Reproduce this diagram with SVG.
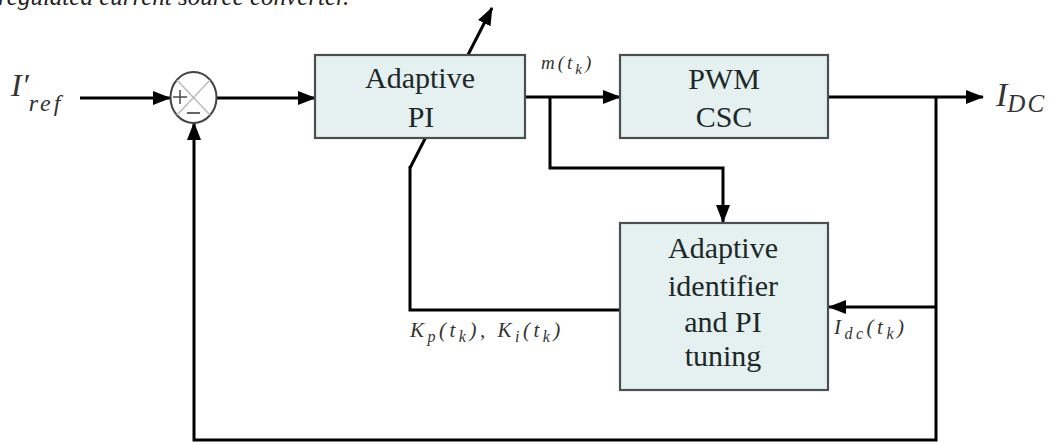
<svg xmlns="http://www.w3.org/2000/svg" width="1057" height="443" viewBox="0 0 1057 443">
  <defs>
    <marker id="arr" markerUnits="userSpaceOnUse" markerWidth="18" markerHeight="14" refX="17" refY="7" orient="auto">
      <path d="M0,0 L18,7 L0,14 Z" fill="#000"/>
    </marker>
  </defs>
  <style>
    .box { fill: #e4f1f0; stroke: #4a4f4f; stroke-width: 2.2; }
    .line { fill: none; stroke: #000; stroke-width: 3; }
    .txt { font-family: "Liberation Serif", "DejaVu Serif", "Times New Roman", serif; font-size: 30px; fill: #1e2828; text-anchor: middle; }
    .math { font-family: "Liberation Serif", "DejaVu Serif", "Times New Roman", serif; font-style: italic; fill: #333; }
    .cap { font-family: "Liberation Serif", "DejaVu Serif", "Times New Roman", serif; font-style: italic; font-size: 25px; fill: #222; }
  </style>
  <rect width="1057" height="443" fill="#fff"/>
  <text class="cap" x="-2" y="5">regulated current source converter.</text>

  <g id="connectors">
    <line class="line" x1="80" y1="98" x2="170" y2="98" marker-end="url(#arr)"/>
    <line class="line" x1="217" y1="98" x2="315" y2="98" marker-end="url(#arr)"/>
    <line class="line" x1="410" y1="168" x2="492" y2="8" marker-end="url(#arr)"/>
    <polyline class="line" points="410,166 410,310 620,310"/>
    <line class="line" x1="525" y1="97" x2="620" y2="97" marker-end="url(#arr)"/>
    <polyline class="line" points="550,97 550,168 723,168 723,222" marker-end="url(#arr)"/>
    <line class="line" x1="828" y1="97" x2="983" y2="97" marker-end="url(#arr)"/>
    <polyline class="line" points="936,97 936,440 194,440 194,123" marker-end="url(#arr)"/>
    <line class="line" x1="936" y1="307" x2="829" y2="307" marker-end="url(#arr)"/>
  </g>

  <g id="sum">
    <ellipse cx="193.5" cy="97.5" rx="23" ry="25.5" fill="#fff" stroke="#444" stroke-width="2"/>
    <line x1="177" y1="80" x2="210" y2="115" stroke="#bbb" stroke-width="1.5"/>
    <line x1="210" y1="80" x2="177" y2="115" stroke="#bbb" stroke-width="1.5"/>
    <line x1="173" y1="97" x2="187" y2="97" stroke="#555" stroke-width="1.6"/>
    <line x1="180" y1="90" x2="180" y2="104" stroke="#555" stroke-width="1.6"/>
    <line x1="187" y1="113" x2="200" y2="113" stroke="#555" stroke-width="1.8"/>
  </g>

  <g id="adaptive-pi">
    <rect class="box" x="315" y="55" width="210" height="83"/>
    <text class="txt" x="420" y="88">Adaptive</text>
    <text class="txt" x="421" y="127">PI</text>
  </g>

  <g id="pwm-csc">
    <rect class="box" x="620" y="55" width="208" height="83"/>
    <text class="txt" x="724" y="89">PWM</text>
    <text class="txt" x="724" y="127">CSC</text>
  </g>

  <g id="identifier">
    <rect class="box" x="620" y="223" width="208" height="167"/>
    <text class="txt" x="723" y="258">Adaptive</text>
    <text class="txt" x="723" y="296">identifier</text>
    <text class="txt" x="723" y="332">and PI</text>
    <text class="txt" x="723" y="366">tuning</text>
  </g>

  <g id="labels">
    <text class="math" x="11" y="96" font-size="32">I′<tspan font-size="24" dy="15" letter-spacing="3">ref</tspan></text>
    <text class="math" x="541" y="69" font-size="19" letter-spacing="3">m(t<tspan font-size="15" dy="5">k</tspan><tspan dy="-5">)</tspan></text>
    <text class="math" x="996" y="106" font-size="34">I<tspan font-size="25" dy="6" letter-spacing="2">DC</tspan></text>
    <text class="math" x="410" y="337" font-size="21" letter-spacing="3.5">K<tspan font-size="16" dy="5">p</tspan><tspan dy="-5">(t</tspan><tspan font-size="16" dy="5">k</tspan><tspan dy="-5">), K</tspan><tspan font-size="16" dy="5">i</tspan><tspan dy="-5">(t</tspan><tspan font-size="16" dy="5">k</tspan><tspan dy="-5">)</tspan></text>
    <text class="math" x="834" y="334" font-size="21" letter-spacing="3.5">I<tspan font-size="16" dy="5">dc</tspan><tspan dy="-5">(t</tspan><tspan font-size="16" dy="5">k</tspan><tspan dy="-5">)</tspan></text>
  </g>
</svg>
